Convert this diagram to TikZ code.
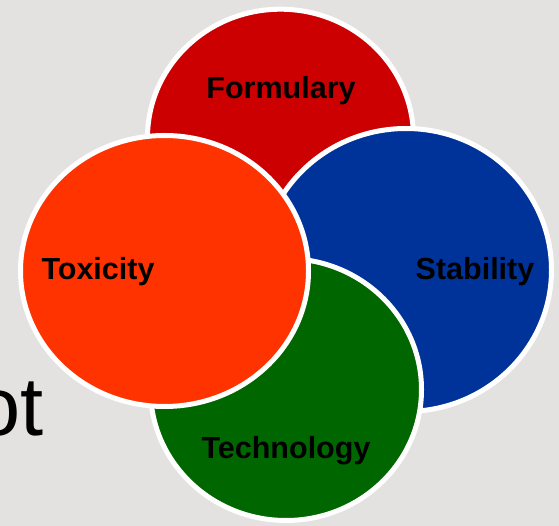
\documentclass[tikz,border=0pt]{standalone}
\usepackage{fontspec}
\setmainfont{Liberation Sans}
\usetikzlibrary{positioning}
\definecolor{slidegray}{RGB}{228,226,225}
\definecolor{formred}{RGB}{204,0,0}
\definecolor{stabblue}{RGB}{0,51,153}
\definecolor{techgreen}{RGB}{0,102,0}
\definecolor{toxorange}{RGB}{255,51,0}
\tikzset{
    petal/.style={
    draw=white,line width=5pt
    },
    tag/.style={
    anchor=base,inner sep=0pt,text=black,font=\fontsize{30.5}{36}\selectfont\bfseries
    },
    title/.style={
    anchor=base east,inner sep=0pt,text=black,font=\fontsize{83}{96}\selectfont
    },
}
\begin{document}
\begin{tikzpicture}[x=1pt,y=-1pt]
   \useasboundingbox (0,0) rectangle (559,526);
   \clip (0,0) rectangle (559,526);
   \fill[slidegray] (0,0) rectangle (559,526);
   \node[title] (ot) at (44,435) {ot};

   \path[petal,fill=formred] (280.5,137.7) ellipse [x radius=133, y radius=128.5];
   \path[petal,fill=stabblue] (406,270) ellipse [x radius=145.5, y radius=141.5];
   \path[petal,fill=techgreen] (286,389.5) ellipse [x radius=135.5, y radius=131];
   \path[petal,fill=toxorange] (164.5,271) ellipse [x radius=144, y radius=135.5];

   \node[tag] (form) at (281,99) {Formulary};
   \node[tag] (stab) at (475,280) {Stability};
   \node[tag] (tech) at (286,458) {Technology};
   \node[tag] (tox) at (98,280) {Toxicity};
\end{tikzpicture}
\end{document}
